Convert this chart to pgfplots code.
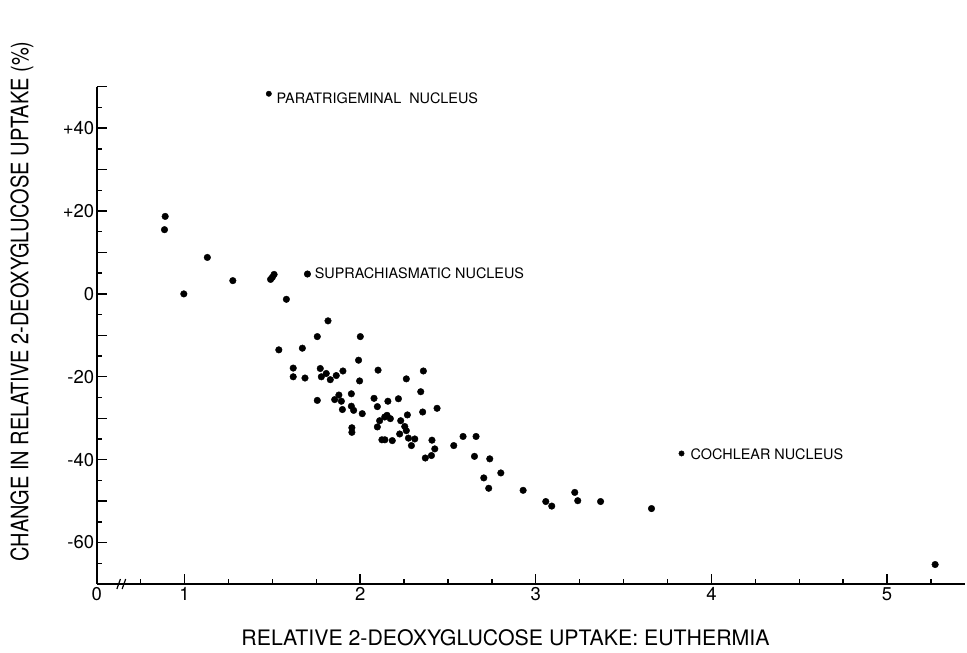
\documentclass[border=0pt]{standalone}
\usepackage{fontspec}
\setmainfont{TeX Gyre Heros}
\usepackage{pgfplots}
\pgfplotsset{compat=1.18}
\begin{document}
\begin{tikzpicture}
\useasboundingbox (-96.7pt,-69pt) rectangle (870.3pt,584pt);
\begin{axis}[
  at={(0,0)}, anchor=south west,
  scale only axis, width=868.3pt, height=497.3pt,
  xmin=0.5, xmax=5.444, ymin=-70, ymax=50,
  axis x line*=bottom, axis y line*=left,
  axis line style={line width=1.6pt},
  tick align=inside,
  major tick length=10pt, minor tick length=5pt,
  every tick/.style={black, line width=1.4pt},
  xtick={1,2,3,4,5}, xticklabels={1,2,3,4,5},
  minor xtick={0.75,1.25,1.5,1.75,2.25,2.5,2.75,3.25,3.5,3.75,4.25,4.5,4.75,5.25},
  extra x ticks={0.5}, extra x tick labels={0},
  extra x tick style={major tick length=0pt},
  ytick={-60,-40,-20,0,20,40}, yticklabels={-60,-40,-20,0,+20,+40},
  minor ytick={-65,-55,-45,-35,-25,-15,-5,5,15,25,35,45},
  extra y ticks={-70,-50,-30,-10,10,30,50}, extra y tick labels={},
  tick label style={font=\fontsize{18.5}{18.5}\selectfont},
  yticklabel style={xshift=1pt},
  /pgf/number format/assume math mode=true,
  clip=false,
]
\addplot[only marks, mark=*, mark size=3.3pt, black] coordinates {
(0.89,18.7) (0.886,15.5) (0.996,0.0) (1.13,8.8) (1.275,3.2)
(1.49,3.5) (1.51,4.7) (1.50,4.0) (1.58,-1.3) (1.70,4.8)
(1.817,-6.5) (1.756,-10.3) (2.001,-10.3) (1.537,-13.5) (1.671,-13.1)
(1.991,-16.0) (1.619,-17.9) (1.619,-20.0) (1.686,-20.3) (1.773,-18.0)
(1.779,-20.0) (1.807,-19.2) (1.830,-20.7) (1.864,-19.7) (1.902,-18.6)
(1.997,-21.0) (2.102,-18.4) (2.263,-20.5) (2.360,-18.6) (1.756,-25.7)
(1.855,-25.5) (1.879,-24.4) (1.893,-25.9) (1.950,-24.1) (1.899,-27.9)
(1.950,-27.1) (1.963,-28.1) (2.012,-28.9) (1.953,-32.3) (1.953,-33.4)
(2.079,-25.2) (2.158,-25.9) (2.218,-25.3) (2.098,-27.2) (2.345,-23.6)
(2.356,-28.5) (2.438,-27.6) (2.269,-29.2) (2.111,-30.6) (2.140,-29.7)
(2.153,-29.3) (2.172,-30.1) (2.098,-32.1) (2.231,-30.6) (2.254,-32.0)
(2.263,-33.0) (2.225,-33.8) (2.275,-34.8) (2.311,-35.0) (2.124,-35.2)
(2.141,-35.2) (2.183,-35.4) (2.292,-36.6) (2.409,-35.3) (2.425,-37.4)
(2.533,-36.6) (2.371,-39.6) (2.406,-39.0) (2.586,-34.4) (2.660,-34.4)
(2.651,-39.2) (2.738,-39.8) (2.801,-43.2) (2.704,-44.4) (2.732,-46.9)
(2.928,-47.4) (3.057,-50.1) (3.091,-51.2) (3.222,-47.9) (3.239,-49.9)
(3.369,-50.1) (3.659,-51.8) (5.274,-65.3)
};
\addplot[only marks, mark=*, mark size=2.7pt, black] coordinates {
(1.48,48.3) (1.70,4.8) (3.830,-38.5)
};
\node[anchor=west, inner sep=0pt, font=\fontsize{14.4}{14.4}\selectfont] at (axis cs:1.524,47.1) {PARATRIGEMINAL\ \ NUCLEUS};
\node[anchor=west, inner sep=0pt, font=\fontsize{14.4}{14.4}\selectfont] at (axis cs:1.741,5.0) {SUPRACHIASMATIC NUCLEUS};
\node[anchor=west, inner sep=0pt, font=\fontsize{14.4}{14.4}\selectfont] at (axis cs:3.881,-38.8) {COCHLEAR NUCLEUS};
\draw[line width=1.2pt] (axis cs:0.615,-71.2) -- (axis cs:0.635,-68.8);
\draw[line width=1.2pt] (axis cs:0.645,-71.2) -- (axis cs:0.665,-68.8);
\end{axis}
\node[rotate=90, inner sep=0pt, font=\fontsize{20}{20}\selectfont] at (-74.7pt,282.5pt) {\scalebox{1}[1.2]{CHANGE IN RELATIVE 2-DEOXYGLUCOSE UPTAKE (\%)}};
\node[inner sep=0pt, font=\fontsize{21.3}{21.3}\selectfont] at (408.8pt,-53.5pt) {RELATIVE 2-DEOXYGLUCOSE UPTAKE: EUTHERMIA};
\end{tikzpicture}
\end{document}
